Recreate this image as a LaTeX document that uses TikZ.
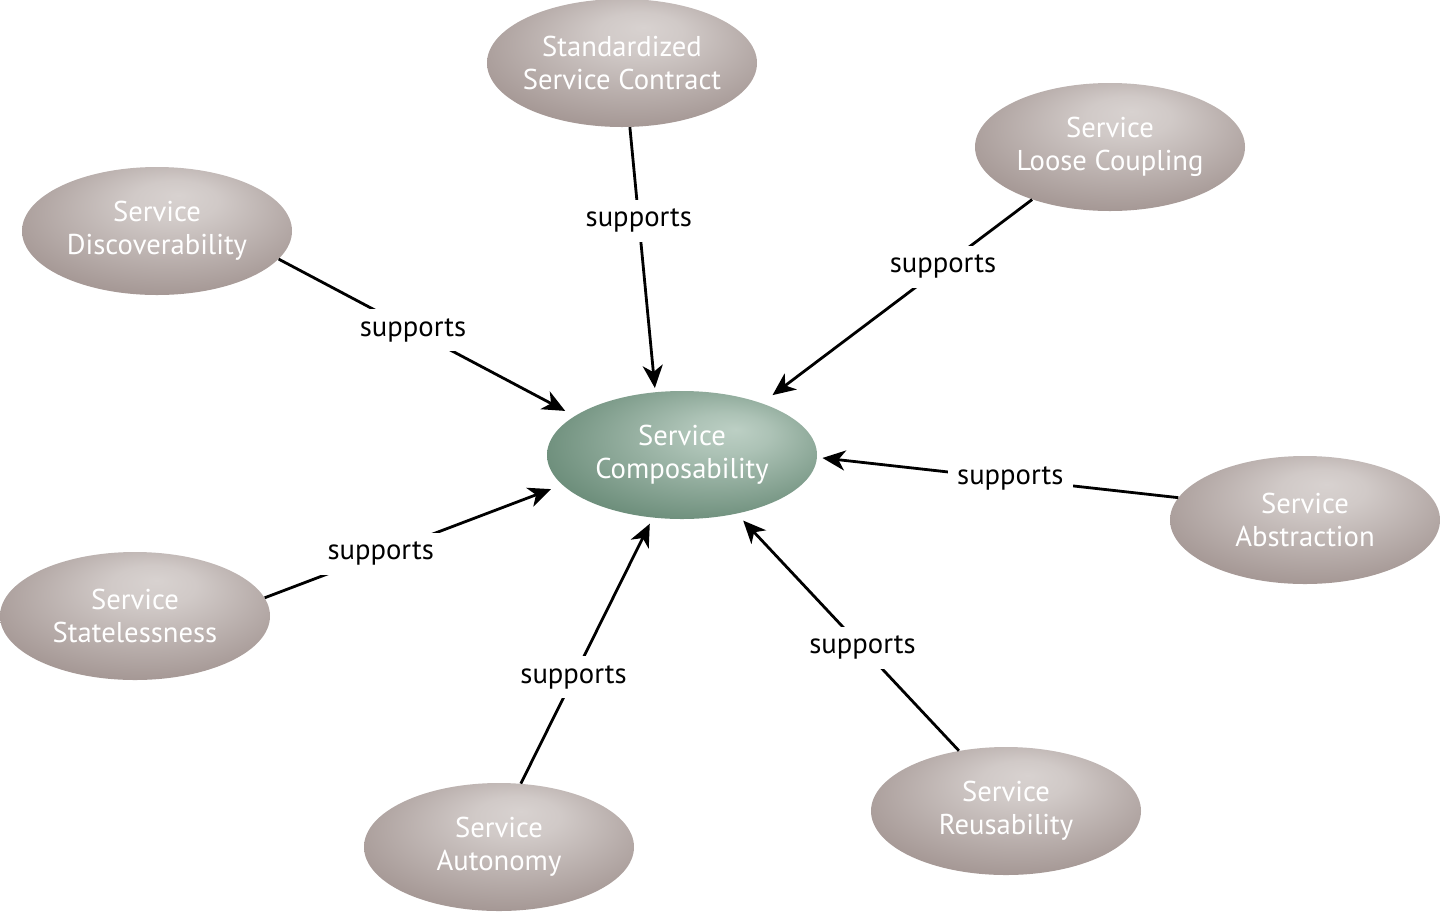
\documentclass[tikz,border=0pt]{standalone}
\usepackage{fontspec}
\setmainfont{PT Sans}
\usepackage{tikz}
\usetikzlibrary{arrows.meta}
\usetikzlibrary{shapes.geometric}

\definecolor{graylo}{RGB}{166,153,150}
\definecolor{grayhi}{RGB}{216,210,208}
\definecolor{greenlo}{RGB}{110,143,124}
\definecolor{greenhi}{RGB}{188,207,196}

\pgfdeclareradialshading{grayball}{\pgfpoint{4bp}{14bp}}{%
  color(0bp)=(grayhi); color(8bp)=(grayhi!85!graylo); color(30bp)=(graylo); color(50bp)=(graylo!92!black)}
\pgfdeclareradialshading{greenball}{\pgfpoint{10bp}{10bp}}{%
  color(0bp)=(greenhi); color(8bp)=(greenhi!80!greenlo); color(30bp)=(greenlo); color(50bp)=(greenlo!95!black)}

\begin{document}
\begin{tikzpicture}
[x=0.75pt,y=-0.75pt,>={Stealth[length=17pt,width=15pt,inset=5pt]},
principle/.style={ellipse,minimum width=202.5pt,minimum height=96pt,inner xsep=-10pt,inner ysep=0pt,
  shading=grayball,text=white,align=center,font=\fontsize{21.5pt}{24.75pt}\selectfont},
lbl/.style={fill=white,inner sep=7pt,text=black,font=\fontsize{21.5pt}{24pt}\selectfont}]

\useasboundingbox (0,0) rectangle (1441,911);

\node[principle,shading=greenball] (compos) at (682,455) {Service\\Composability};
\node[principle] (contract) at (622,63) {Standardized\\Service Contract};
\node[principle] (coupling) at (1110,147) {Service\\Loose Coupling};
\node[principle] (discover) at (157,231) {Service\\Discoverability};
\node[principle] (abstract) at (1305,520) {Service\\Abstraction};
\node[principle] (stateless) at (135,616) {Service\\Statelessness};
\node[principle] (autonomy) at (499,847) {Service\\Autonomy};
\node[principle] (reuse) at (1006,811) {Service\\Reusability};

\foreach \from/\a/\b/\gap/\p in {contract/-83.3/113.1/3/0.354,coupling/214.2/33.4/10/0.33,
  discover/-13.7/160.7/8/0.454,abstract/170.2/-1/4/0.465,stateless/8.4/194/9/0.39,
  autonomy/71/-115.2/5/0.40,reuse/128.2/-47.3/7/0.434}
\draw[->,line width=2.1pt,shorten >=\gap pt] (\from.\a) -- node[lbl,pos=\p] {supports} (compos.\b);

\end{tikzpicture}
\end{document}
